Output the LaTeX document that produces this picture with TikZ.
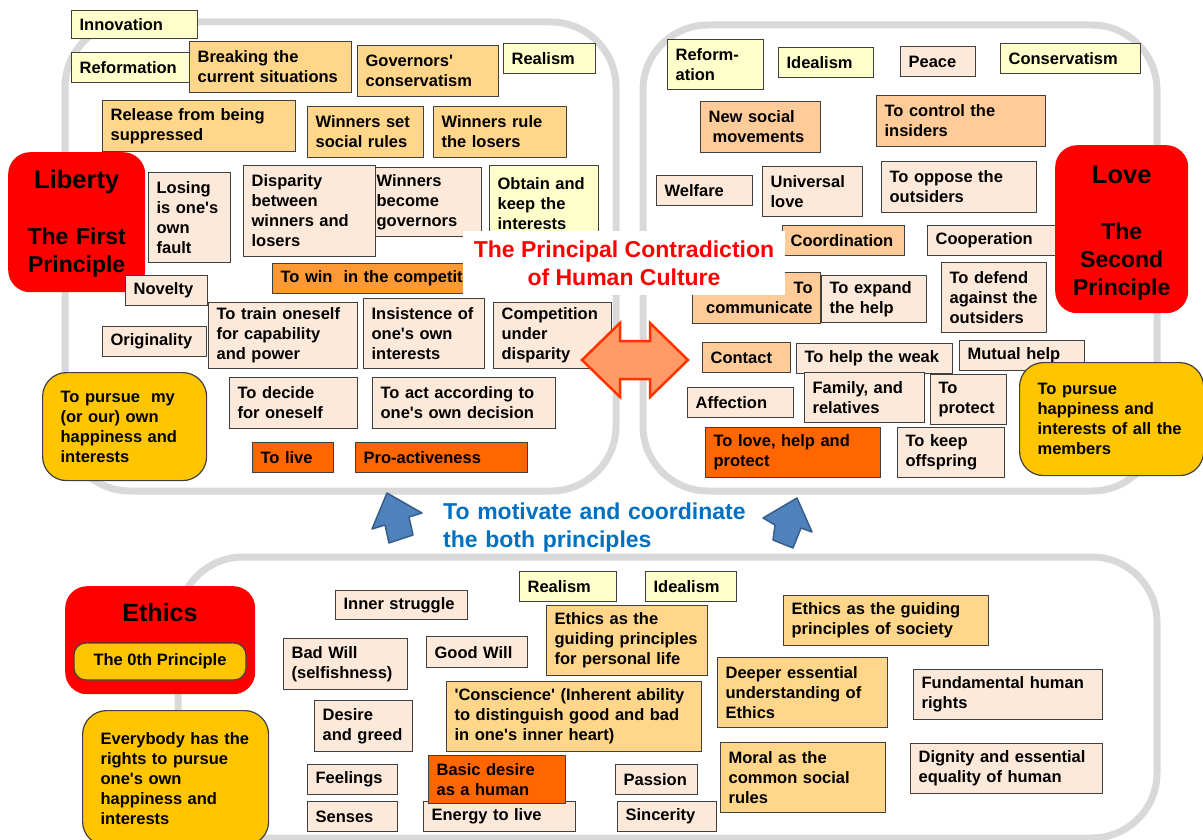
\documentclass[tikz,border=0pt]{standalone}
\usepackage{fontspec}
\setmainfont{Liberation Sans}
\usetikzlibrary{positioning}
\definecolor{paleyel}{HTML}{FFFFCC}
\definecolor{goldcard}{HTML}{FFD68A}
\definecolor{peach}{HTML}{FFCC99}
\definecolor{blush}{HTML}{FDE9D9}
\definecolor{amber}{HTML}{FF9933}
\definecolor{tangerine}{HTML}{FF6600}
\definecolor{sun}{HTML}{FFC600}
\definecolor{arrowblue}{HTML}{4F81BD}
\definecolor{arrowedge}{HTML}{385D8A}
\definecolor{salmon}{HTML}{FF9966}
\definecolor{flame}{HTML}{FF3300}
\definecolor{motiv}{HTML}{0070C0}
\definecolor{framegrey}{HTML}{D9D9D9}
\begin{document}
\begin{tikzpicture}[x=1pt, y=-1pt,
    card/.style 2 args={draw=black!75, line width=1.2pt, anchor=north west,
      inner xsep=8pt, inner ysep=1pt, text width={#1pt-16pt}, minimum height=#2pt,
      align=left, font=\bfseries\fontsize{16.5}{20}\selectfont},
    pill/.style 2 args={card={#1}{#2}, fill=sun, rounded corners=24pt,
      inner xsep=18pt, text width={#1pt-36pt}},
    principle/.style 2 args={fill=red, rounded corners=22pt, anchor=north west,
      inner sep=0pt, text width=#1pt, minimum height=#2pt, align=center,
      font=\bfseries\fontsize{23}{28}\selectfont},
    frame/.style={draw=framegrey, line width=7pt, rounded corners=65pt},
    bluearrow/.style={fill=arrowblue, draw=arrowedge, line width=1.5pt, line join=round}]
\useasboundingbox (0,0) rectangle (1203,840);
\draw[frame] (65,22) rectangle (616,491);
\draw[frame] (643,25) rectangle (1157,491);
\draw[frame] (178,557) rectangle (1157,838);

% Liberty
\node[card={126}{28}, fill=paleyel] (innov) at (71,10) {Innovation};
\node[card={119}{30}, fill=paleyel] (reform) at (71,52) {Reformation};
\node[card={162}{51}, fill=goldcard] (breaking) at (189,41) {Breaking the\\current situations};
\node[card={141}{51}, fill=goldcard] (govcons) at (357,45) {Governors\textquotesingle\\conservatism};
\node[card={92}{30}, fill=paleyel] (realismL) at (503,43) {Realism};
\node[card={193}{51}, fill=goldcard] (release) at (102,100) {Release from being\\suppressed};
\node[card={116}{51}, fill=goldcard] (winset) at (307,106) {Winners set\\social rules};
\node[card={133}{51}, fill=goldcard] (winrule) at (433,106) {Winners rule\\the losers};
\node[card={82}{90}, fill=blush] (losing) at (148,172) {Losing\\is one\textquotesingle s\\own\\fault};
\node[card={113}{69}, fill=blush] (wingov) at (368,167) {Winners\\become\\governors};
\node[card={132}{91}, fill=blush] (disparity) at (243,165) {Disparity\\between\\winners and\\losers};
\node[card={109}{76}, fill=paleyel] (obtain) at (489,165) {Obtain and\\keep the\\interests};
\node[card={230}{30}, fill=amber] (towin) at (272,263) {To win\ \ in the competition};
\node[principle={137}{140}] (liberty) at (8,152) {\rule{0pt}{22pt}{\fontsize{25.5}{28}\selectfont Liberty}\\[28pt]The First\\Principle};
\node[card={82}{30}, fill=blush] (novelty) at (125,275) {Novelty};
\node[card={149}{66}, fill=blush] (train) at (208,302) {To train oneself\\for capability\\and power};
\node[card={121}{70}, fill=blush] (insist) at (363,298) {Insistence of\\one\textquotesingle s own\\interests};
\node[card={118}{66}, fill=blush] (compete) at (493,302) {Competition\\under\\disparity};
\node[card={104}{30}, fill=blush] (origin) at (102,326) {Originality};
\node[pill={164}{108}] (pursueL) at (42,372) {To pursue\ \ my\\(or our) own\\happiness and\\interests};
\node[card={128}{51}, fill=blush] (decide) at (229,377) {To decide\\for oneself};
\node[card={183}{51}, fill=blush] (act) at (372,377) {To act according to\\one\textquotesingle s own decision};
\node[card={81}{30}, fill=tangerine] (live) at (252,442) {To live};
\node[card={172}{30}, fill=tangerine] (proact) at (355,442) {Pro-activeness};

% Love
\node[card={96}{50}, fill=paleyel] (reformR) at (667,39) {Reform-\\ation};
\node[card={95}{30}, fill=paleyel] (idealR) at (778,47) {Idealism};
\node[card={75}{30}, fill=blush] (peace) at (900,46) {Peace};
\node[card={140}{30}, fill=paleyel] (conserv) at (1000,43) {Conservatism};
\node[card={120}{51}, fill=peach] (newsoc) at (700,101) {New social\\\hspace*{4pt}movements};
\node[card={169}{51}, fill=peach] (control) at (876,95) {To control the\\insiders};
\node[card={96}{30}, fill=blush] (welfare) at (656,175) {Welfare};
\node[card={100}{50}, fill=blush] (univ) at (762,166) {Universal\\love};
\node[card={155}{51}, fill=blush] (oppose) at (881,161) {To oppose the\\outsiders};
\node[card={122}{30}, fill=peach] (coord) at (782,225) {Coordination};
\node[card={128}{30}, fill=blush] (coop) at (927,225) {Cooperation};
\node[card={128}{51}, fill=peach, align=right] (commun) at (692,272) {To\\communicate};
\node[card={105}{47}, fill=blush] (expand) at (821,275) {To expand\\the help};
\node[card={105}{70}, fill=blush] (defend) at (941,262) {To defend\\against the\\outsiders};
\node[principle={133}{168}] (love) at (1055,145) {\rule{0pt}{26pt}{\fontsize{25.5}{28}\selectfont Love}\\[28pt]The\\Second\\Principle};
\node[card={88}{30}, fill=peach] (contact) at (702,342) {Contact};
\node[card={156}{30}, fill=blush] (helpweak) at (796,343) {To help the weak};
\node[card={125}{30}, fill=blush] (mutual) at (959,340) {Mutual help};
\node[card={106}{30}, fill=blush] (affect) at (687,387) {Affection};
\node[card={120}{50}, fill=blush] (family) at (804,372) {Family, and\\relatives};
\node[card={76}{50}, fill=blush] (protect) at (930,374) {To\\protect};
\node[pill={184}{113}] (pursueR) at (1019,362) {To pursue\\happiness and\\interests of all the\\members};
\node[card={175}{50}, fill=tangerine] (lovehelp) at (705,427) {To love, help and\\protect};
\node[card={107}{50}, fill=blush] (offspring) at (897,427) {To keep\\offspring};

\filldraw[fill=salmon, draw=flame, line width=2.5pt] (582,360) -- (620,323) -- (620,341) -- (650,341) -- (650,323) -- (688,360) -- (650,397) -- (650,379) -- (620,379) -- (620,397) -- cycle;
\node[fill=white, minimum width=322pt, minimum height=64pt, text=red, align=center,
  font=\bfseries\fontsize{23}{28}\selectfont] (title) at (624,263) {The Principal Contradiction\\of Human Culture};

\filldraw[bluearrow] (387,493) -- (422,513) -- (409,517) -- (413,535) -- (389,543) -- (385,525) -- (372,529) -- cycle;
\filldraw[bluearrow] (797,498) -- (812,532) -- (801,528) -- (793,548) -- (773,540) -- (775,525) -- (763,518) -- cycle;
\node[anchor=north west, inner sep=0pt, text width=330pt, align=left, text=motiv,
  font=\bfseries\fontsize{23}{28}\selectfont] (motto) at (443,503) {To motivate and coordinate\\the both principles};

% Ethics
\node[principle={190}{108}] (ethics) at (65,586) {};
\node[font=\bfseries\fontsize{25}{28}\selectfont] (ethicsname) at (160,613) {Ethics};
\node[draw=black!75, line width=1.2pt, fill=sun, rounded corners=12pt, minimum width=172pt,
  minimum height=37pt, font=\bfseries\fontsize{16.5}{20}\selectfont] (zeroth) at (160,661.5) {The 0th Principle};
\node[pill={186}{135}] (everybody) at (82,710) {Everybody has the\\rights to pursue\\one\textquotesingle s own\\happiness and\\interests};
\node[card={132}{29}, fill=blush] (inner) at (335,590) {Inner struggle};
\node[card={97}{30}, fill=paleyel] (realismB) at (519,571) {Realism};
\node[card={91}{30}, fill=paleyel] (idealB) at (645,571) {Idealism};
\node[card={161}{70}, fill=goldcard] (personal) at (546,605) {Ethics as the\\guiding principles\\for personal life};
\node[card={205}{50}, fill=goldcard] (society) at (783,595) {Ethics as the guiding\\principles of society};
\node[card={124}{51}, fill=blush] (badwill) at (283,638) {Bad Will\\(selfishness)};
\node[card={101}{31}, fill=blush] (goodwill) at (426,636) {Good Will};
\node[card={170}{70}, fill=goldcard] (deeper) at (717,657) {Deeper essential\\understanding of\\Ethics};
\node[card={189}{50}, fill=blush] (rights) at (913,669) {Fundamental human\\rights};
\node[card={255}{70}, fill=goldcard] (conscience) at (446,681) {\textquotesingle Conscience\textquotesingle\ (Inherent ability\\to distinguish good and bad\\in one\textquotesingle s inner heart)};
\node[card={98}{51}, fill=blush] (desire) at (314,700) {Desire\\and greed};
\node[card={192}{50}, fill=blush] (dignity) at (910,743) {Dignity and essential\\equality of human};
\node[card={165}{70}, fill=goldcard] (moral) at (720,742) {Moral as the\\common social\\rules};
\node[card={90}{30}, fill=blush] (feelings) at (307,764) {Feelings};
\node[card={152}{30}, fill=blush] (energy) at (423,801) {Energy to live};
\node[card={137}{48}, fill=tangerine] (basic) at (428,755) {Basic desire\\as a human};
\node[card={82}{30}, fill=blush] (passion) at (615,764) {Passion};
\node[card={90}{30}, fill=blush] (senses) at (307,801) {Senses};
\node[card={99}{30}, fill=blush] (sincerity) at (617,801) {Sincerity};
\end{tikzpicture}
\end{document}
